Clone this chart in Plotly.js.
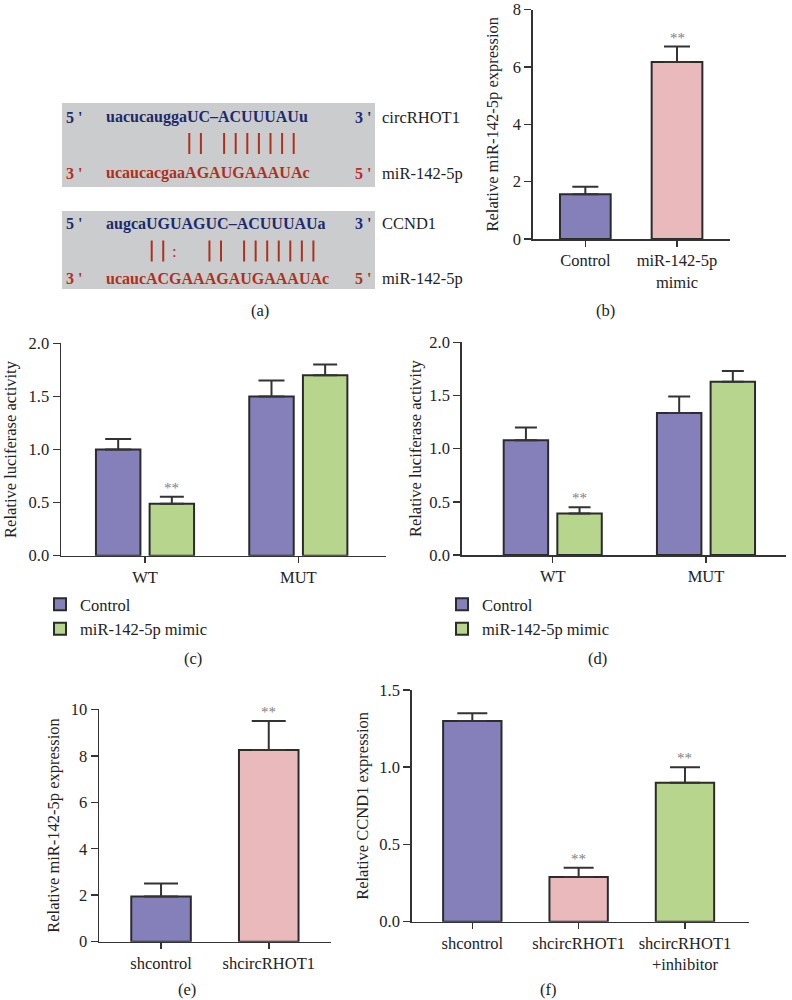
<!DOCTYPE html>
<html><head><meta charset="utf-8">
<script src="https://cdn.plot.ly/plotly-3.0.1.min.js"></script>
<style>html,body{margin:0;padding:0;background:#fff}</style>
</head><body><div id="chart" style="width:792px;height:1000px"></div>
<script>
// ===== DATA =====
// (a) sequence alignment
const seqCircTop = "uacucauggaUC–ACUUUAUu";
const seqCircBottom = "ucaucacgaaAGAUGAAAUAc";
const seqCcndTop = "augcaUGUAGUC–ACUUUAUa";
const seqCcndBottom = "ucaucACGAAAGAUGAAAUAc";
const pairsCirc = "|| |||||||";
const pairsCcnd = "||:  || |||||||";
const targetLabels = ["circRHOT1", "CCND1"];
const mirLabel = "miR-142-5p";
const endTop = ["5 '", "3 '"];
const endBottom = ["3 '", "5 '"];

// (b)
const catB = ["Control", "miR-142-5p<br>mimic"];
const valB = [1.56, 6.17];
const errB = [0.26, 0.54];
const sigB = ["", "**"];

// (c) and (d)
const groupsCD = ["WT", "MUT"];
const seriesNames = ["Control", "miR-142-5p mimic"];
const ctrlC = [1.0, 1.5];
const errCtrlC = [0.1, 0.15];
const mimicC = [0.49, 1.7];
const errMimicC = [0.065, 0.1];
const sigMimicC = ["**", ""];
const ctrlD = [1.08, 1.335];
const errCtrlD = [0.12, 0.155];
const mimicD = [0.39, 1.63];
const errMimicD = [0.06, 0.1];
const sigMimicD = ["**", ""];

// (e)
const catE = ["shcontrol", "shcircRHOT1"];
const valE = [1.95, 8.25];
const errE = [0.55, 1.25];
const sigE = ["", "**"];

// (f)
const catF = ["shcontrol", "shcircRHOT1", "shcircRHOT1<br>+inhibitor"];
const valF = [1.3, 0.29, 0.9];
const errF = [0.05, 0.06, 0.1];
const sigF = ["", "**", "**"];

const panelLabels = ["(a)", "(b)", "(c)", "(d)", "(e)", "(f)"];

// ===== STYLE =====
const FONT = "Liberation Serif, Times New Roman, serif";
const PURPLE = "#8580ba", PINK = "#e9b9bc", GREEN = "#b8d58e";
const OUT = "#2b2b2b", AXC = "#333";
const NAVY = "#1d2a6e", RED = "#b0301e";
const FS = 16.5;
const W = 792, H = 1000;
const px = v => v / W;
const py = v => 1 - v / H;

function errBar(arr, w) {
  return {type: "data", array: arr, arrayminus: arr.map(() => 0), symmetric: false,
          color: AXC, thickness: 2, width: w};
}
function barTrace(cats, vals, errs, colors, xa, ya, width, capw, extra) {
  return Object.assign({
    type: "bar", x: cats, y: vals, xaxis: xa, yaxis: ya, width: width,
    marker: {color: colors, line: {color: OUT, width: 2}},
    error_y: errBar(errs, capw), showlegend: false, hoverinfo: "skip"
  }, extra || {});
}

const traces = [];
// (b)
traces.push(barTrace(catB, valB, errB, [PURPLE, PINK], "x", "y", 0.553, 13));
// (c)
traces.push(barTrace(groupsCD, ctrlC, errCtrlC, PURPLE, "x2", "y2", 0.29, 13,
  {name: seriesNames[0], offset: -0.32, showlegend: true, legend: "legend"}));
traces.push(barTrace(groupsCD, mimicC, errMimicC, GREEN, "x2", "y2", 0.29, 12,
  {name: seriesNames[1], offset: 0.03, showlegend: true, legend: "legend"}));
// (d)
traces.push(barTrace(groupsCD, ctrlD, errCtrlD, PURPLE, "x3", "y3", 0.29, 11,
  {name: seriesNames[0], offset: -0.32, showlegend: true, legend: "legend2"}));
traces.push(barTrace(groupsCD, mimicD, errMimicD, GREEN, "x3", "y3", 0.29, 11,
  {name: seriesNames[1], offset: 0.03, showlegend: true, legend: "legend2"}));
// (e)
traces.push(barTrace(catE, valE, errE, [PURPLE, PINK], "x4", "y4", 0.553, 17));
// (f)
traces.push(barTrace(catF, valF, errF, [PURPLE, PINK, GREEN], "x5", "y5", 0.549, 15));

function xAx(domain, range, anchor) {
  return {domain: domain, range: range, anchor: anchor, type: "category",
    showline: true, linecolor: AXC, linewidth: 1.5, ticks: "outside", ticklen: 6,
    tickwidth: 1.5, tickcolor: AXC, showgrid: false, zeroline: false,
    tickfont: {size: FS, color: "#222"}, fixedrange: true, ticklabeloverflow: "allow"};
}
function yAx(domain, range, dtick, fmt, title, anchor, standoff) {
  return {domain: domain, range: range, dtick: dtick, tick0: 0, tickformat: fmt, anchor: anchor,
    showline: true, linecolor: AXC, linewidth: 1.5, ticks: "outside", ticklen: 7,
    tickwidth: 1.5, tickcolor: AXC, showgrid: false, zeroline: false,
    tickfont: {size: FS, color: "#222"}, fixedrange: true, ticklabeloverflow: "allow",
    title: {text: title, font: {size: FS, color: "#222"}, standoff: standoff}};
}

const annotations = [];
function sigMarks(sigs, vals, errs, xa, ya, shift) {
  sigs.forEach((s, i) => {
    if (!s) return;
    annotations.push({xref: xa, yref: ya, x: i + shift, y: vals[i] + errs[i], text: s,
      showarrow: false, yanchor: "bottom", yshift: -1, font: {size: 15, color: "#808080"}});
  });
}
sigMarks(sigB, valB, errB, "x", "y", 0);
sigMarks(sigMimicC, mimicC, errMimicC, "x2", "y2", 0.175);
sigMarks(sigMimicD, mimicD, errMimicD, "x3", "y3", 0.175);
sigMarks(sigE, valE, errE, "x4", "y4", 0);
sigMarks(sigF, valF, errF, "x5", "y5", 0);

// panel labels
const labelPos = [[260, 310], [605, 310], [193, 658], [597, 658], [187, 989], [548, 989]];
panelLabels.forEach((t, i) => annotations.push({xref: "paper", yref: "paper",
  x: px(labelPos[i][0]), y: py(labelPos[i][1]), text: t, showarrow: false,
  xanchor: "center", yanchor: "middle", font: {size: FS, color: "#222"}}));

// (a) diagram
const shapes = [];
const boxes = [
  {top: 103, bottom: 187, yTop: 117, yMid: 143.5, yBot: 173, seqs: [seqCircTop, seqCircBottom],
   pairs: pairsCirc, px0: 189.3, step: 11.6, label: targetLabels[0]},
  {top: 211, bottom: 289, yTop: 224, yMid: 251, yBot: 278.3, seqs: [seqCcndTop, seqCcndBottom],
   pairs: pairsCcnd, px0: 151.7, step: 11.55, label: targetLabels[1]}
];
const seqFont = (c) => ({size: 16, color: c, family: FONT, weight: "bold"});
boxes.forEach(b => {
  shapes.push({type: "rect", xref: "paper", yref: "paper", x0: px(62), x1: px(375),
    y0: py(b.bottom), y1: py(b.top), fillcolor: "#cbcccd", line: {width: 0}, layer: "below"});
  const txt = (x, y, t, c, sz) => annotations.push({xref: "paper", yref: "paper", x: px(x), y: py(y),
    text: t, showarrow: false, xanchor: "left", yanchor: "middle", font: sz ? {size: sz, color: c} : seqFont(c)});
  txt(64, b.yTop, endTop[0], NAVY);
  txt(64, b.yBot, endBottom[0], RED);
  txt(104, b.yTop, b.seqs[0], NAVY);
  txt(104, b.yBot, b.seqs[1], RED);
  txt(353, b.yTop, endTop[1], NAVY);
  txt(353, b.yBot, endBottom[1], RED);
  txt(380, b.yTop, b.label, "#222", FS);
  txt(380, b.yBot, mirLabel, "#222", FS);
  b.pairs.split("").forEach((ch, i) => {
    const x = b.px0 + i * b.step;
    if (ch === "|") {
      shapes.push({type: "line", xref: "paper", yref: "paper", x0: px(x), x1: px(x),
        y0: py(b.yMid + 10.5), y1: py(b.yMid - 10.5), line: {color: RED, width: 2}});
    } else if (ch === ":") {
      annotations.push({xref: "paper", yref: "paper", x: px(x), y: py(b.yMid), text: ":",
        showarrow: false, xanchor: "center", yanchor: "middle", font: {size: 17, color: "#d0202a"}});
    }
  });
});

const legendBase = {orientation: "v", bgcolor: "rgba(0,0,0,0)", borderwidth: 0,
  font: {size: FS, color: "#222", family: FONT}, xanchor: "left", yanchor: "top",
  tracegroupgap: 0, traceorder: "normal"};

const layout = {
  width: W, height: H, margin: {l: 0, r: 0, t: 0, b: 0},
  paper_bgcolor: "#fff", plot_bgcolor: "rgba(0,0,0,0)",
  font: {family: FONT, size: FS, color: "#222"},
  barmode: "overlay", showlegend: true,
  xaxis: xAx([px(532.7), px(730)], [-0.574, 1.578], "y"),
  yaxis: yAx([py(239), py(9.5)], [0, 8], 2, "d", "Relative miR-142-5p expression", "x", 10),
  xaxis2: xAx([px(61), px(385.7)], [-0.548, 1.570], "y2"),
  yaxis2: yAx([py(555.7), py(343.3)], [0, 2], 0.5, ".1f", "Relative luciferase activity", "x2", 8),
  xaxis3: xAx([px(461.7), px(786)], [-0.594, 1.522], "y3"),
  yaxis3: yAx([py(555), py(342.3)], [0, 2], 0.5, ".1f", "Relative luciferase activity", "x3", 3),
  xaxis4: xAx([px(99), px(331)], [-0.576, 1.578], "y4"),
  yaxis4: yAx([py(941.7), py(709.3)], [0, 10], 2, "d", "Relative miR-142-5p expression", "x4", 7),
  xaxis5: xAx([px(411.7), px(749.3)], [-0.570, 2.605], "y5"),
  yaxis5: yAx([py(921.7), py(690)], [0, 1.5], 0.5, ".1f", "Relative CCND1 expression", "x5", 6),
  legend: Object.assign({}, legendBase, {x: px(40), y: py(587)}),
  legend2: Object.assign({}, legendBase, {x: px(442), y: py(587)}),
  annotations: annotations, shapes: shapes
};

Plotly.newPlot("chart", traces, layout, {staticPlot: true, displayModeBar: false});
</script>
</body></html>
